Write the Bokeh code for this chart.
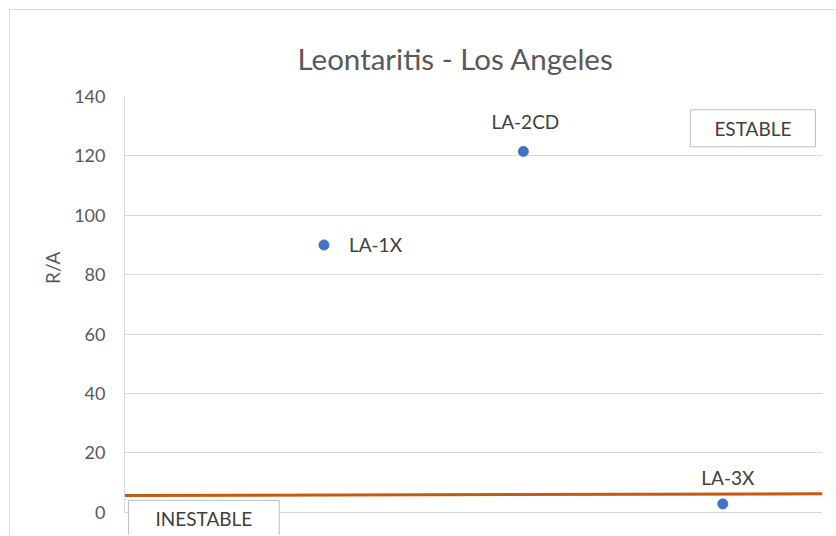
from bokeh.plotting import figure
from bokeh.models import Range1d, FixedTicker, ColumnDataSource, Label
from bokeh.embed import file_html
from bokeh.resources import INLINE

# ---- data ----
names = ["LA-1X", "LA-2CD", "LA-3X"]
x_vals = [1, 2, 3]
ra_vals = [90, 121.5, 2.8]
limit_x = [0, 3.5]
limit_y = [5.6, 6.2]
y_ticks = [0, 20, 40, 60, 80, 100, 120, 140]

# ---- label placement (style) ----
label_dx = [25, 2, 5]
label_dy = [0, -30, -26]
label_align = ["left", "center", "center"]

FONT = "Lato"
GREY = "#595959"

p = figure(width=826, height=526, output_backend="svg", toolbar_location=None,
           x_range=Range1d(0, 3.5), y_range=Range1d(-8.18, y_ticks[-1]),
           min_border_left=114, min_border_right=14, min_border_top=86,
           min_border_bottom=0, margin=(9, 0, 0, 9))
p.styles = {"border-top": "1px solid #d9d9d9", "border-left": "1px solid #d9d9d9"}

p.title.text = "Leontaritis - Los Angeles"
p.title.align = "left"
p.title.offset = 173
p.title.text_font = FONT
p.title.text_font_size = "29.5px"
p.title.text_font_style = "normal"
p.title.text_color = GREY
p.title.standoff = 42

p.outline_line_color = None
p.xaxis.visible = False
p.xgrid.visible = False

yax = p.yaxis[0]
yax.ticker = FixedTicker(ticks=y_ticks)
yax.bounds = (y_ticks[0], y_ticks[-1])
yax.axis_line_color = "#d9d9d9"
yax.major_tick_line_color = None
yax.minor_tick_line_color = None
yax.major_tick_out = 0
yax.major_tick_in = 0
yax.major_label_standoff = 19
yax.major_label_text_font = FONT
yax.major_label_text_font_size = "18px"
yax.major_label_text_color = GREY
# leading no-break spaces lift the visible title above the frame centre, as in the reference
yax.axis_label = "\u00a0" * 20 + "R/A"
yax.axis_label_text_font = FONT
yax.axis_label_text_font_size = "19px"
yax.axis_label_text_font_style = "normal"
yax.axis_label_text_color = GREY
yax.axis_label_standoff = 7

p.ygrid.ticker = FixedTicker(ticks=y_ticks)
p.ygrid.grid_line_color = "#d9d9d9"
p.ygrid.grid_line_width = 1

p.line(limit_x, limit_y, line_color="#C55A11", line_width=3)

src = ColumnDataSource(dict(x=x_vals, y=ra_vals, name=names,
                            dx=label_dx, dy=label_dy, align=label_align))
p.scatter("x", "y", source=src, size=10, fill_color="#4472C4", line_color="#4472C4")
p.text("x", "y", text="name", source=src, x_offset="dx", y_offset="dy",
       text_align="align", text_baseline="middle",
       text_font={"value": FONT}, text_font_size="19px", text_color="#404040")

for txt, xx, yy, pad in [("ESTABLE", 3.151, 129.3, (24, 7)),
                         ("INESTABLE", 0.398, -2.25, (27, 7))]:
    p.add_layout(Label(x=xx, y=yy, text=txt, text_align="center", text_baseline="middle",
                       text_font=FONT, text_font_size="19px", text_color="#404040",
                       background_fill_color="white", border_line_color="#bfbfbf",
                       border_line_width=1, padding=pad))

open("out.html", "w").write(file_html(p, INLINE))
